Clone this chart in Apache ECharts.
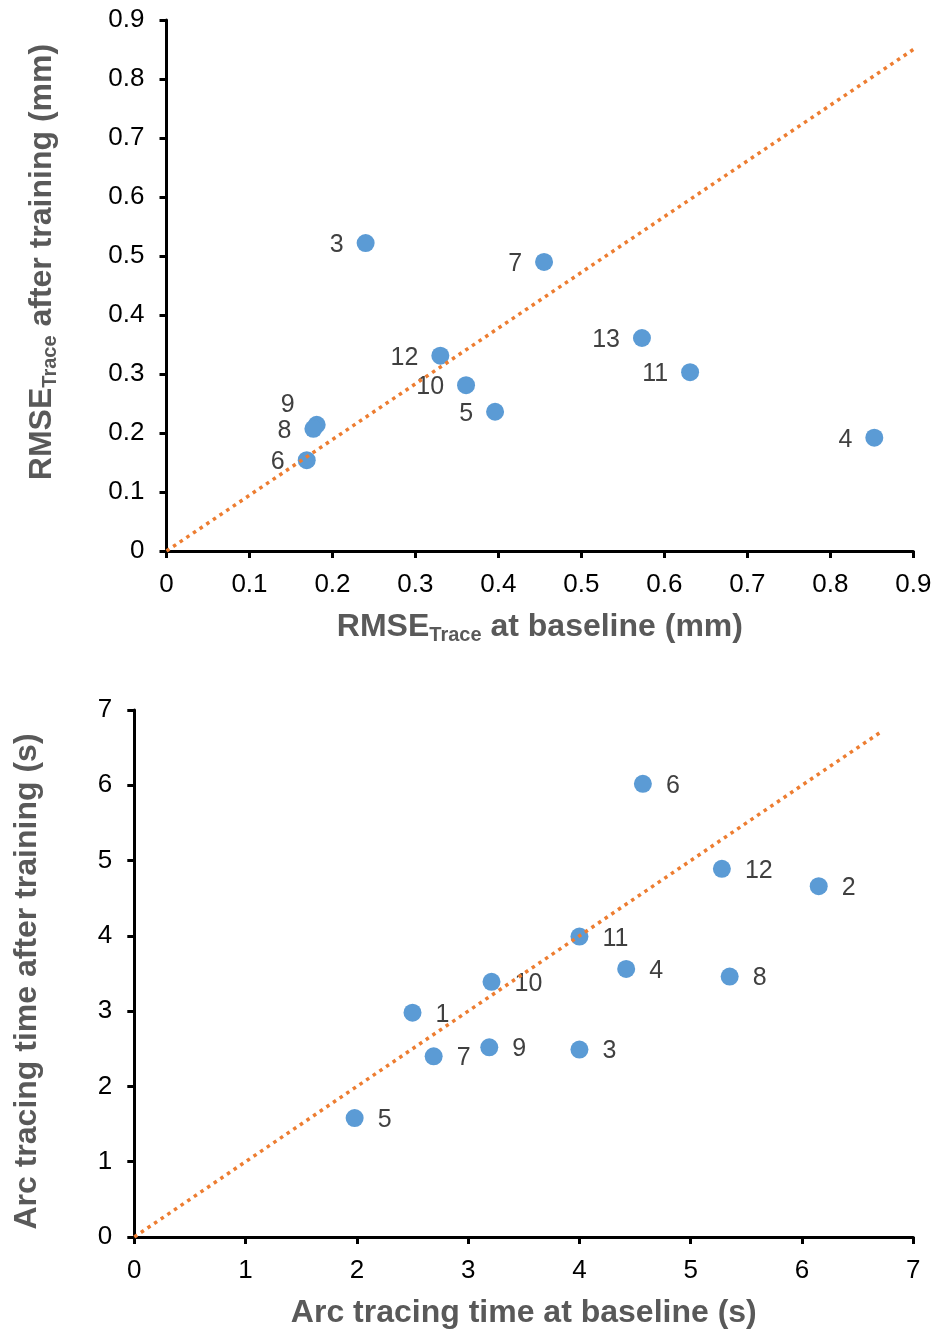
<!DOCTYPE html>
<html>
<head>
<meta charset="utf-8">
<style>
  html, body { margin: 0; padding: 0; background: #fff; }
  #chart { width: 935px; height: 1332px; }
</style>
<script src="https://cdn.jsdelivr.net/npm/echarts@6/dist/echarts.min.js"></script>
</head>
<body>
<div id="chart"></div>
<script>
// Tracing error (RMSE) per participant, before and after training (mm)
const rmseIds      = ['3', '7', '12', '10', '5', '13', '11', '4', '9', '8', '6'];
const rmseBaseline = [0.240, 0.455, 0.330, 0.361, 0.396, 0.573, 0.631, 0.853, 0.181, 0.177, 0.169];
const rmseAfter    = [0.522, 0.490, 0.331, 0.281, 0.236, 0.361, 0.303, 0.192, 0.214, 0.207, 0.154];
const rmseRefLine  = [[0, 0], [0.9, 0.85]];
const rmseTicks    = { min: 0, max: 0.9, step: 0.1 };

// Arc tracing time per participant, before and after training (s)
const timeIds      = ['1', '2', '3', '4', '5', '6', '7', '8', '9', '10', '11', '12'];
const timeBaseline = [2.50, 6.15, 4.00, 4.42, 1.98, 4.57, 2.69, 5.35, 3.19, 3.21, 4.00, 5.28];
const timeAfter    = [2.98, 4.66, 2.49, 3.56, 1.58, 6.02, 2.40, 3.46, 2.52, 3.39, 3.99, 4.89];
const timeRefLine  = [[0, 0], [6.7, 6.7]];
const timeTicks    = { min: 0, max: 7, step: 1 };

const FONT = "'Liberation Sans', Arial, sans-serif";
const TITLE_COLOR = '#595959';
const TITLE_SIZE = 32;

function points(ids, xs, ys) {
  return ids.map((id, i) => {
    const item = { name: id, value: [xs[i], ys[i]] };
    // label of participant 9 sits above its neighbour 8
    if (id === '9' && xs === rmseBaseline) item.label = { offset: [0, -20] };
    return item;
  });
}

function titleRich() {
  return {
    m: { fontSize: TITLE_SIZE, fontWeight: 'bold', color: TITLE_COLOR, fontFamily: FONT, lineHeight: 36 },
    s: { fontSize: 20, fontWeight: 'bold', color: TITLE_COLOR, fontFamily: FONT, lineHeight: 16, verticalAlign: 'bottom' }
  };
}

function valueAxis(ticks, gridIndex, extra) {
  return Object.assign({
    type: 'value',
    gridIndex: gridIndex,
    min: ticks.min,
    max: ticks.max,
    interval: ticks.step,
    nameLocation: 'middle',
    splitLine: { show: false },
    axisLine: { show: true, onZero: false, lineStyle: { color: '#000', width: 3 } },
    axisTick: { show: true, length: 7, lineStyle: { color: '#000', width: 3 } },
    axisLabel: { fontSize: 26, color: '#000', fontFamily: FONT, margin: 21 }
  }, extra);
}

const chart = echarts.init(document.getElementById('chart'), null, { renderer: 'canvas' });

chart.setOption({
  animation: false,
  backgroundColor: '#fff',
  grid: [
    { left: 166.5, right: 21.7, top: 20, bottom: 781 },
    { left: 134.3, right: 21.7, top: 710, bottom: 91 }
  ],
  xAxis: [
    valueAxis(rmseTicks, 0, {
      name: '{m|RMSE}{s|Trace}{m| at baseline (mm)}',
      nameGap: 58,
      nameTextStyle: { rich: titleRich() }
    }),
    valueAxis(timeTicks, 1, {
      name: 'Arc tracing time at baseline (s)',
      nameGap: 58,
      nameTextStyle: { fontSize: TITLE_SIZE, fontWeight: 'bold', color: TITLE_COLOR, fontFamily: FONT, lineHeight: 36 }
    })
  ],
  yAxis: [
    valueAxis(rmseTicks, 0, {
      name: '{m|RMSE}{s|Trace}{m| after training (mm)}',
      nameGap: 106,
      nameTextStyle: { rich: titleRich(), padding: [0, 0, 0, 47] },
      axisLabel: { fontSize: 26, color: '#000', fontFamily: FONT, margin: 22 }
    }),
    valueAxis(timeTicks, 1, {
      name: 'Arc tracing time after training (s)',
      nameGap: 89,
      nameTextStyle: { fontSize: TITLE_SIZE, fontWeight: 'bold', color: TITLE_COLOR, fontFamily: FONT, lineHeight: 36, padding: [0, 16, 0, 0] },
      axisLabel: { fontSize: 26, color: '#000', fontFamily: FONT, margin: 22 }
    })
  ],
  series: [
    {
      type: 'scatter',
      xAxisIndex: 0, yAxisIndex: 0,
      symbolSize: 18,
      itemStyle: { color: '#5B9BD5', opacity: 1 },
      label: { show: true, position: 'left', distance: 13, offset: [0, 2], formatter: '{b}', fontSize: 25, color: '#404040', fontFamily: FONT },
      data: points(rmseIds, rmseBaseline, rmseAfter),
      z: 2
    },
    {
      type: 'line',
      xAxisIndex: 0, yAxisIndex: 0,
      symbol: 'none',
      silent: true,
      lineStyle: { color: '#ED7D31', width: 3.5, type: [3.5, 4.5], cap: 'butt' },
      data: rmseRefLine,
      z: 3
    },
    {
      type: 'scatter',
      xAxisIndex: 1, yAxisIndex: 1,
      symbolSize: 18,
      itemStyle: { color: '#5B9BD5', opacity: 1 },
      label: { show: true, position: 'right', distance: 14, offset: [0, 2], formatter: '{b}', fontSize: 25, color: '#404040', fontFamily: FONT },
      data: points(timeIds, timeBaseline, timeAfter),
      z: 2
    },
    {
      type: 'line',
      xAxisIndex: 1, yAxisIndex: 1,
      symbol: 'none',
      silent: true,
      lineStyle: { color: '#ED7D31', width: 3.5, type: [3.5, 4.5], cap: 'butt' },
      data: timeRefLine,
      z: 3
    }
  ]
});
</script>
</body>
</html>
